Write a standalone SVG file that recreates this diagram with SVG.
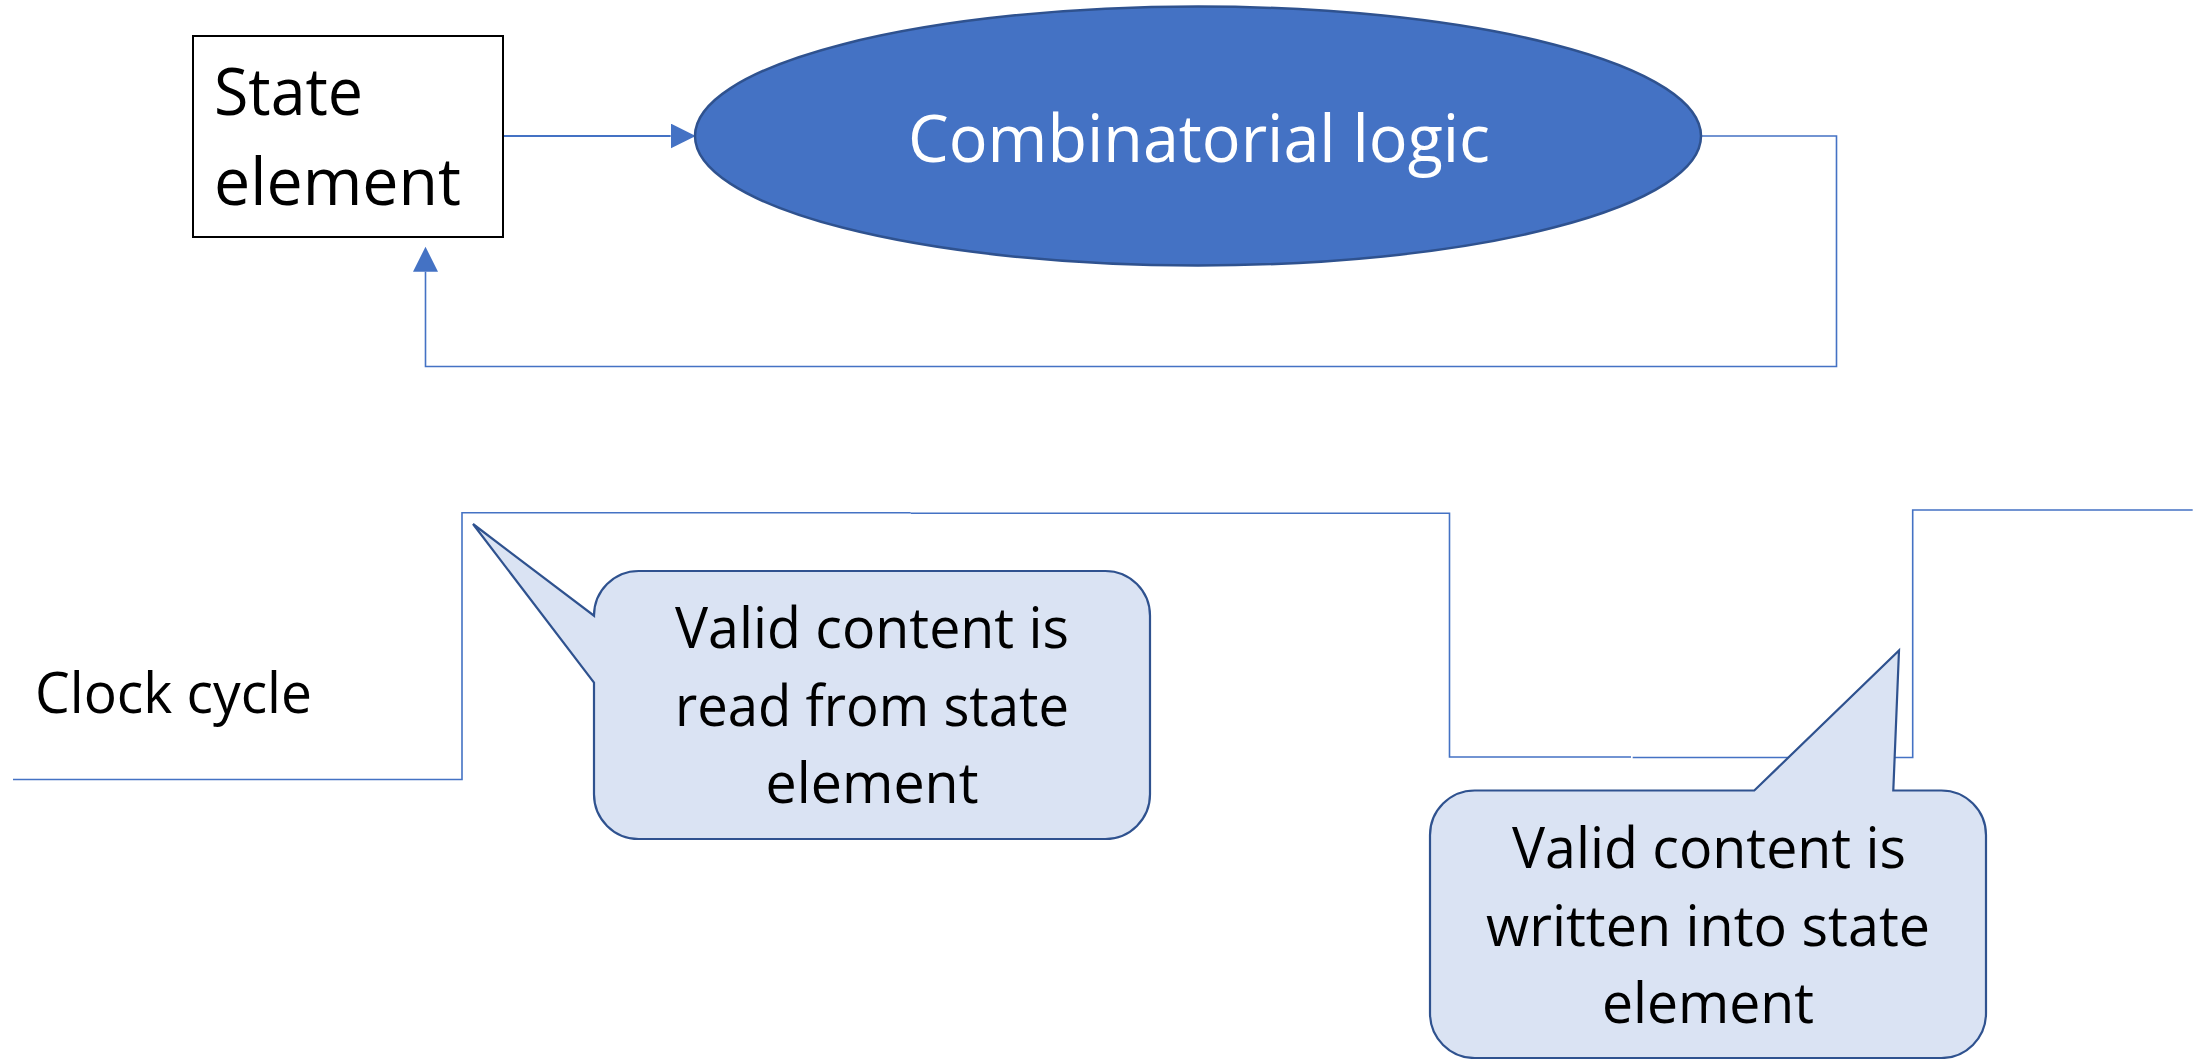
<svg xmlns="http://www.w3.org/2000/svg" width="2208" height="1059" viewBox="0 0 2208 1059">
  <style>
    .txt { font-family: "Open Sans", "Noto Sans", "Liberation Sans", sans-serif; fill: #000000; }
    .big { font-size: 65px; }
    .mid { font-size: 57px; }
    .white { fill: #FFFFFF; font-size: 66px; }
    .conn { fill: none; stroke: #4472C4; }
    .clock { fill: none; stroke: #4472C4; stroke-width: 1.6; }
    .callout { fill: #DAE3F3; stroke: #2F528F; stroke-width: 2.2; stroke-linejoin: miter; }
  </style>
  <defs>
    <marker id="arrow" markerUnits="userSpaceOnUse" markerWidth="26" markerHeight="26" refX="0" refY="12.5" orient="auto">
      <path d="M0,0 L25,12.5 L0,25 Z" fill="#4472C4"/>
    </marker>
  </defs>
  <rect width="2208" height="1059" fill="#FFFFFF"/>

  <g id="connectors">
    <line class="conn" stroke-width="2.2" x1="503" y1="136" x2="670.7" y2="136" marker-end="url(#arrow)"/>
    <polyline class="conn" stroke-width="1.6" points="1701,136 1836.5,136 1836.5,366.5 425.5,366.5 425.5,271.7" marker-end="url(#arrow)"/>
  </g>

  <g id="state-element">
    <rect x="193" y="36" width="310" height="201" fill="#FFFFFF" stroke="#000000" stroke-width="2"/>
    <text class="txt big" x="214" y="115" textLength="149" lengthAdjust="spacingAndGlyphs">State</text>
    <text class="txt big" x="214" y="205" textLength="247" lengthAdjust="spacingAndGlyphs">element</text>
  </g>

  <g id="combinatorial-logic">
    <ellipse cx="1198" cy="136" rx="503" ry="129.5" fill="#4472C4" stroke="#2F528F" stroke-width="2.5"/>
    <text class="txt white" x="1199" y="162" text-anchor="middle" textLength="582" lengthAdjust="spacingAndGlyphs">Combinatorial logic</text>
  </g>

  <g id="clock-cycle">
    <text class="txt mid" x="35" y="713" textLength="277" lengthAdjust="spacingAndGlyphs">Clock cycle</text>
    <polyline class="clock" points="13,779.5 462,779.5 462,512.7 910.7,512.7"/>
    <polyline class="clock" points="910.7,513.3 1449.5,513.3 1449.5,757 1631,757"/>
    <polyline class="clock" points="1632.7,757.5 1912.7,757.5 1912.7,510 2192.7,510"/>
  </g>

  <g id="callout-read">
    <path class="callout" d="M 638.7,571 H 1105.3 A 44.7 44.7 0 0 1 1150,615.7 V 794.3 A 44.7 44.7 0 0 1 1105.3,839 H 638.7 A 44.7 44.7 0 0 1 594,794.3 V 682.7 L 473,524 L 594,615.7 A 44.7 44.7 0 0 1 638.7,571 Z"/>
    <text class="txt mid" x="872" y="648" text-anchor="middle" textLength="394" lengthAdjust="spacingAndGlyphs">Valid content is</text>
    <text class="txt mid" x="872" y="726" text-anchor="middle" textLength="394" lengthAdjust="spacingAndGlyphs">read from state</text>
    <text class="txt mid" x="872" y="803" text-anchor="middle" textLength="213" lengthAdjust="spacingAndGlyphs">element</text>
  </g>

  <g id="callout-write">
    <path class="callout" d="M 1474.7,790.5 H 1754.3 L 1899,650.5 L 1893.3,790.5 H 1941.3 A 44.7 44.7 0 0 1 1986,835.2 V 1013.3 A 44.7 44.7 0 0 1 1941.3,1058 H 1474.7 A 44.7 44.7 0 0 1 1430,1013.3 V 835.2 A 44.7 44.7 0 0 1 1474.7,790.5 Z"/>
    <text class="txt mid" x="1709" y="868" text-anchor="middle" textLength="394" lengthAdjust="spacingAndGlyphs">Valid content is</text>
    <text class="txt mid" x="1708" y="946" text-anchor="middle" textLength="444" lengthAdjust="spacingAndGlyphs">written into state</text>
    <text class="txt mid" x="1708" y="1023" text-anchor="middle" textLength="212" lengthAdjust="spacingAndGlyphs">element</text>
  </g>
</svg>
